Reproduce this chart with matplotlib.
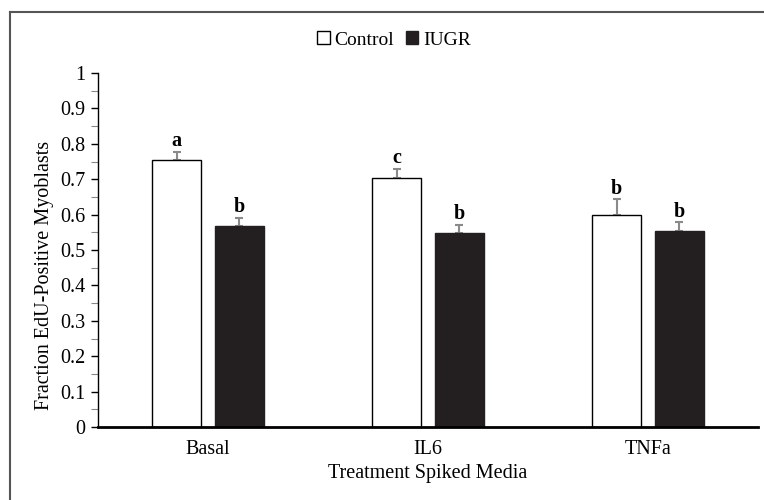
import matplotlib
matplotlib.use("Agg")
import matplotlib.pyplot as plt
import numpy as np
from matplotlib.lines import Line2D
from matplotlib.ticker import MultipleLocator

plt.rcParams['font.family'] = ['Liberation Serif', 'DejaVu Serif']

categories = ["Basal", "IL6", "TNFa"]
control = [0.754, 0.702, 0.600]
control_err = [0.024, 0.028, 0.043]
iugr = [0.568, 0.547, 0.555]
iugr_err = [0.023, 0.025, 0.023]
control_letters = ["a", "c", "b"]
iugr_letters = ["b", "b", "b"]
ytick_labels = ["0", "0.1", "0.2", "0.3", "0.4", "0.5", "0.6", "0.7", "0.8", "0.9", "1"]

FS = 14.5

fig = plt.figure(figsize=(7.64, 5.0), dpi=100)
ax = fig.add_axes([98/764, 1-427/500, 660/764, 354/500])

x = np.arange(len(categories))
w = 0.225
off = 0.1425
ax.bar(x - off, control, w, color="white", edgecolor="black", linewidth=1.0, label="Control", zorder=2)
ax.bar(x + off, iugr, w, color="#231f20", edgecolor="#231f20", linewidth=1.0, label="IUGR", zorder=2)
ax.errorbar(x - off, control, yerr=[np.zeros(3), control_err], fmt="none", ecolor="#8a8a8a",
            elinewidth=1.5, capsize=3, capthick=1.5, zorder=1)
ax.errorbar(x + off, iugr, yerr=[np.zeros(3), iugr_err], fmt="none", ecolor="#8a8a8a",
            elinewidth=1.5, capsize=3, capthick=1.5, zorder=1)

for i in range(3):
    ax.annotate(control_letters[i], (x[i] - off, control[i] + control_err[i]), xytext=(0, 0.5),
                textcoords="offset points", ha="center", va="bottom", fontsize=FS, fontweight="bold")
    ax.annotate(iugr_letters[i], (x[i] + off, iugr[i] + iugr_err[i]), xytext=(0, 0.5),
                textcoords="offset points", ha="center", va="bottom", fontsize=FS, fontweight="bold")

ax.set_xlim(-0.5, 2.5)
ax.set_ylim(0, 1)
ax.set_xticks(x)
ax.set_xticklabels(categories, fontsize=FS)
ax.tick_params(axis="x", length=0, pad=9)
ax.set_yticks(np.round(np.arange(0, 1.01, 0.1), 1))
ax.yaxis.set_minor_locator(MultipleLocator(0.05))
ax.set_yticklabels(ytick_labels, fontsize=FS)
ax.tick_params(axis="y", which="major", length=5, width=1, direction="out", pad=4)
ax.tick_params(axis="y", which="minor", length=5, width=0.8, direction="out", color="#888888")
for s in ["top", "right"]:
    ax.spines[s].set_visible(False)
ax.spines["left"].set_linewidth(1.0)
ax.spines["bottom"].set_linewidth(2.0)
ax.set_ylabel("Fraction EdU-Positive Myoblasts", fontsize=FS, labelpad=5)
ax.yaxis.set_label_coords(-0.066, 0.427)
ax.set_xlabel("Treatment Spiked Media", fontsize=FS, labelpad=4)

leg = fig.legend(loc="center", bbox_to_anchor=(394/764, 1-40/500), ncol=2, frameon=False,
                 fontsize=14, handlelength=0.65, handleheight=0.65, handletextpad=0.25, columnspacing=0.6)

fig.add_artist(Line2D([9.5/764, 9.5/764], [0, 1-11.5/500], transform=fig.transFigure, color="#555555", lw=1.5))
fig.add_artist(Line2D([9.5/764, 1], [1-11.5/500, 1-11.5/500], transform=fig.transFigure, color="#555555", lw=1.5))

fig.savefig("out.png", dpi=100)
